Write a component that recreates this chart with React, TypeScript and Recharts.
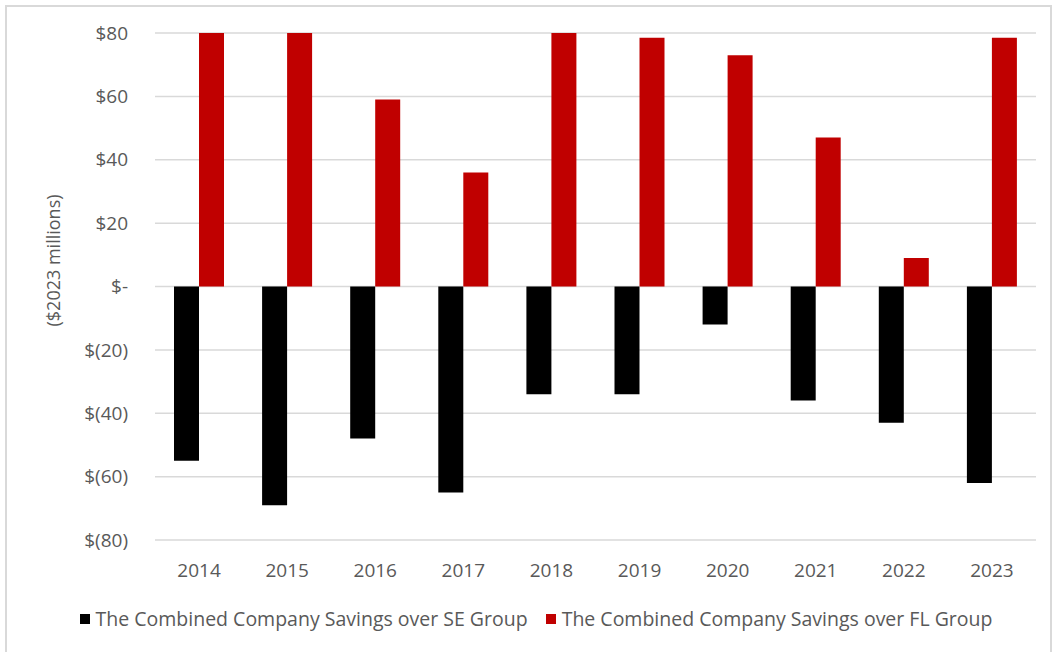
import React from 'react';
import { BarChart, Bar, XAxis, YAxis, CartesianGrid, Legend } from 'recharts';

const years = ['2014', '2015', '2016', '2017', '2018', '2019', '2020', '2021', '2022', '2023'];
const seSavings = [-55, -69, -48, -65, -34, -34, -12, -36, -43, -62];
const flSavings = [80, 80, 59, 36, 80, 78.5, 73, 47, 9, 78.5];
const yTicks = [-80, -60, -40, -20, 0, 20, 40, 60, 80];

const series = [
  { key: 'se', name: 'The Combined Company Savings over SE Group', color: '#000000' },
  { key: 'fl', name: 'The Combined Company Savings over FL Group', color: '#c00000' },
];

const data = years.map((year, i) => ({ year, se: seSavings[i], fl: flSavings[i] }));

const font = '"Open Sans", sans-serif';
const grey = '#595959';

const money = (v: number) => (v === 0 ? '$-' : v < 0 ? `$(${Math.abs(v)})` : `$${v}`);

const LegendContent = () => (
  <div style={{ display: 'flex', justifyContent: 'center', fontFamily: font, fontSize: 19.5, color: grey }}>
    {series.map((s, i) => (
      <div key={s.key} style={{ display: 'flex', alignItems: 'center', marginLeft: i ? 18 : 0 }}>
        <span style={{ display: 'inline-block', width: 10, height: 10, background: s.color, marginRight: 6 }} />
        <span>{s.name}</span>
      </div>
    ))}
  </div>
);

const App: React.FC = () => (
  <div style={{ position: 'absolute', left: 0, top: 0, width: 1056, height: 652, overflow: 'hidden', background: '#fff' }}>
    <div
      style={{
        position: 'absolute',
        left: 5,
        top: 5,
        width: 1043,
        height: 700,
        border: '2px solid #d9d9d9',
      }}
    />
    <div style={{ position: 'absolute', left: 0, top: 0 }}>
      <BarChart
        width={1056}
        height={652}
        data={data}
        margin={{ top: 33, right: 20, bottom: 55, left: 0 }}
        barGap={0}
        barSize={25}
      >
        <CartesianGrid vertical={false} stroke="#d9d9d9" strokeWidth={1.5} />
        <XAxis
          dataKey="year"
          axisLine={false}
          tickLine={false}
          tickMargin={18}
          tick={{ fill: grey, fontSize: 19, fontFamily: font }}
        />
        <YAxis
          width={155}
          domain={[-80, 80]}
          ticks={yTicks}
          tickFormatter={money}
          axisLine={false}
          tickLine={false}
          tickMargin={21}
          tick={{ fill: grey, fontSize: 19, fontFamily: font }}
          label={{
            value: '($2023 millions)',
            angle: -90,
            position: 'center',
            dx: -24,
            dy: -26,
            style: { fill: grey, fontSize: 18, fontFamily: font },
          }}
        />
        <Legend content={LegendContent} wrapperStyle={{ top: 605, left: 16, width: 1040 }} />
        {series.map((s) => (
          <Bar key={s.key} dataKey={s.key} name={s.name} fill={s.color} isAnimationActive={false} />
        ))}
      </BarChart>
    </div>
  </div>
);

export default App;
